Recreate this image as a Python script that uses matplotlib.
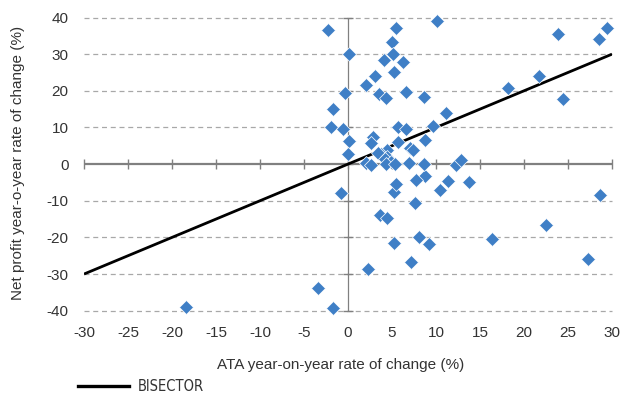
import matplotlib
matplotlib.use('Agg')
import matplotlib.pyplot as plt
from matplotlib.lines import Line2D

plt.rcParams['axes.unicode_minus'] = False
plt.rcParams['font.family'] = ['Liberation Sans', 'DejaVu Sans']

# ATA year-on-year rate of change (%)
ata_change = [
    -18.4, -3.4, -1.7, -0.75, 2.3, 3.6, 4.4, 5.2, 7.2, 8.1, 9.2, 7.6, 5.2, 5.5,
    10.4, 11.4, 13.8, 8.8, 7.7, 16.4, 22.5, 27.3, 28.6, -2.3, 5.5, 10.1, 5.0,
    0.1, 5.1, 4.1, 6.2, 5.2, 3.1, 2.0, 3.5, 4.3, 6.6, 8.6, -0.35, -1.7, 11.1,
    -1.9, -0.6, 9.7, 5.7, 6.6, 0.1, 2.8, 2.6, 5.7, 8.8, 7.0, 7.4, 0.05, 4.4,
    3.8, 3.4, 4.4, 4.2, 4.9, 2.1, 2.6, 4.3, 5.3, 6.9, 8.6, 12.3, 12.8, 18.2,
    21.7, 24.4, 23.9, 28.5, 29.4,
]
# Net profit year-on-year rate of change (%)
net_profit_change = [
    -38.9, -33.8, -39.3, -8.0, -28.6, -13.9, -14.8, -21.4, -26.8, -19.9, -21.8,
    -10.5, -7.5, -5.5, -7.1, -4.6, -4.8, -3.2, -4.4, -20.5, -16.6, -26.0, -8.4,
    36.7, 37.2, 39.0, 33.4, 30.0, 30.1, 28.5, 27.8, 25.0, 24.0, 21.5, 19.2,
    17.9, 19.6, 18.2, 19.4, 15.0, 14.0, 10.0, 9.6, 10.5, 10.0, 9.5, 6.4, 7.3,
    5.8, 6.1, 6.5, 4.3, 3.8, 2.8, 3.8, 2.7, 2.9, 2.0, 1.3, 0.6, 0.3, -0.2,
    -0.1, 0.0, 0.4, 0.1, -0.2, 1.0, 20.7, 24.1, 17.8, 35.4, 34.0, 37.1,
]
bisector_x = [-30, 30]
bisector_y = [-30, 30]
x_ticks = list(range(-30, 35, 5))
y_ticks = list(range(-40, 50, 10))

W, H = 622, 394
fig = plt.figure(figsize=(W / 100, H / 100), dpi=100)
L, R = 84 / W, 612 / W
T, B = 1 - 17.5 / H, 1 - 310.7 / H
ax = fig.add_axes([L, B, R - L, T - B])
ax.set_xlim(-30, 30)
ax.set_ylim(-40, 40)
for s in ax.spines.values():
    s.set_visible(False)
ax.set_xticks(x_ticks)
ax.set_yticks(y_ticks)
ax.tick_params(length=0, pad=11, labelsize=11, labelcolor='#333333')

for yv in y_ticks:
    if yv != 0:
        ax.plot([-30, 30], [yv, yv], color='#a8a8a8', lw=0.9,
                ls=(0, (4, 3)), zorder=1, clip_on=False)

ax.axhline(0, color='#808080', lw=1.6, zorder=2)
ax.axvline(0, color='#808080', lw=0.9, zorder=2)
ax.plot(x_ticks, [0] * len(x_ticks), ls='none', marker='|', ms=7, mew=1,
        color='#808080', clip_on=False, zorder=2)
ax.plot([0] * len(y_ticks), y_ticks, ls='none', marker='_', ms=7, mew=1,
        color='#808080', clip_on=False, zorder=2)

bis, = ax.plot(bisector_x, bisector_y, color='black', lw=2, zorder=3,
               solid_capstyle='butt', label='BISECTOR')
ax.plot(ata_change, net_profit_change, ls='none', marker='D', ms=7.6,
        color='#3F7FC6', mec='white', mew=0.5, zorder=4, clip_on=False)

fig.text(341 / W, 1 - 365 / H, 'ATA year-on-year rate of change (%)',
         ha='center', va='center', fontsize=11, color='#333333')
fig.text(18 / W, 1 - 163 / H, 'Net profit year-o-year rate of change (%)',
         ha='center', va='center', rotation=90, fontsize=11, color='#333333')

leg_handle = Line2D([0], [0], color='black', lw=2.4)
leg = fig.legend([leg_handle], ['BISECTOR'], loc='center left',
                 bbox_to_anchor=(78 / W, 1 - 386.5 / H), frameon=False,
                 borderpad=0, borderaxespad=0, handlelength=3.5,
                 handletextpad=0.6,
                 prop={'family': ['Liberation Sans Narrow', 'DejaVu Sans'],
                       'stretch': 'condensed', 'size': 10.5})
for t in leg.get_texts():
    t.set_color('#333333')

fig.savefig('out.png', dpi=100)
